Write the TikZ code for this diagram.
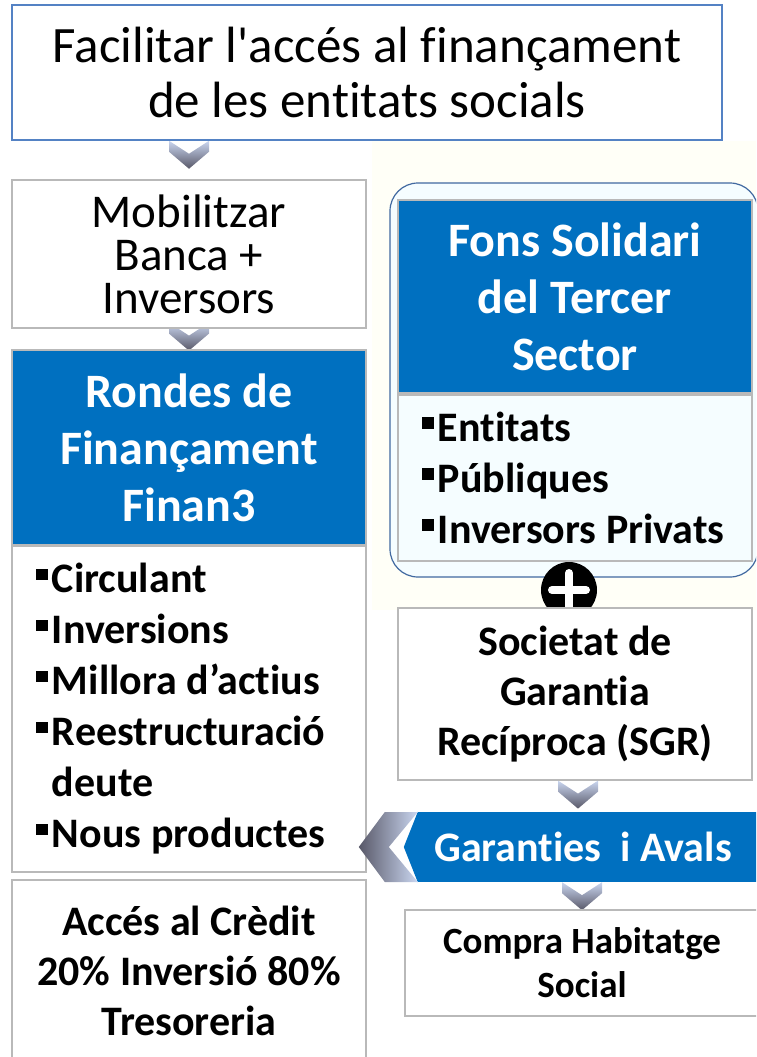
\documentclass[tikz,border=0pt]{standalone}
\usepackage{fontspec}
\setmainfont{Carlito}[Ligatures={TeXOff,NoCommon}]
\usepackage{tikz}
\usetikzlibrary{positioning, calc, backgrounds}
\definecolor{boxblue}{RGB}{0,112,192}
\definecolor{titleborder}{RGB}{84,130,196}
\definecolor{boxgray}{RGB}{185,185,185}
\definecolor{fundborder}{RGB}{65,105,160}
\definecolor{fundfill}{RGB}{245,253,255}
\definecolor{creambg}{RGB}{255,255,247}
\definecolor{chevlight}{RGB}{202,214,240}
\definecolor{chevdark}{RGB}{88,88,104}

\newcommand{\sqbullet}{\rule[0.3em]{0.28em}{0.28em}\kern0.1em}
\newcommand{\chevdown}[1]{\shade[top color=chevlight, bottom color=chevdark] ($(#1)+(-20,0)$) -- ++(20,13) -- ++(20,-13) -- ++(0,11) -- ++(-20,17) -- ++(-20,-17) -- cycle;}
\newcommand{\chevleft}[1]{\shade[left color=chevdark, right color=chevlight] ($(#1)+(0,-35)$) -- ++(-29,35) -- ++(29,35) -- ++(-33,0) -- ++(-26,-35) -- ++(26,-35) -- cycle;}

\begin{document}
\begin{tikzpicture}[
    x=1pt, y=-1pt,
    box/.style={draw=boxgray, fill=white, line width=1.2pt, minimum width=354pt, align=center, inner sep=0pt},
    bluebox/.style={box, fill=boxblue, text=white, font={\fontsize{48}{57}\selectfont\bfseries}},
    listbox/.style={box, align=flush left, text width=306pt, font={\fontsize{42}{51}\selectfont\bfseries}},
    boldbox/.style={box, font={\fontsize{42}{50}\selectfont\bfseries}}
]
    \useasboundingbox (0,0) rectangle (756,1057);
    \clip (0,0) rectangle (756,1057);
    \fill[creambg] (372,141) rectangle (756,610);

    % Goal
    \node[draw=titleborder, line width=1.5pt, fill=white, minimum width=710pt, minimum height=135pt, align=center, font={\fontsize{51}{55}\selectfont}] (title) at (367,72.5) {Facilitar l'accés al finançament\\de les entitats socials};

    % Left column
    \node[box, minimum height=148pt, font={\fontsize{47}{43}\selectfont}] (mobil) at (189,254) {Mobilitzar\\Banca +\\Inversors};
    \node[bluebox, draw=boxgray, minimum height=195pt] (rondes) at (189,447.5) {Rondes de\\Finançament\\Finan3};
    \node[listbox, minimum height=326pt] (rlist) at (189,709) {\sqbullet Circulant\\\sqbullet Inversions\\\sqbullet Millora d’actius\\\sqbullet Reestructuració\\\phantom{\sqbullet}deute\\\sqbullet Nous productes};
    \node[boldbox, minimum height=182pt] (credit) at (189,971) {Accés al Crèdit\\20\% Inversió 80\%\\Tresoreria};

    % Right column
    \node[draw=fundborder, line width=1.2pt, fill=fundfill, rounded corners=28pt, minimum width=368pt, minimum height=394pt] (fundbg) at (574,380) {};
    \node[bluebox, draw=boxgray, minimum height=193pt] (fons) at (575,296.5) {Fons Solidari\\del Tercer\\Sector};
    \node[listbox, fill=fundfill, minimum height=166pt] (flist) at (575,478) {\sqbullet Entitats\\\sqbullet Públiques\\\sqbullet Inversors Privats};
    \node[circle, fill=black, minimum size=56pt, inner sep=0pt] (plus) at (569,590) {};
    \draw[white, line width=8pt, line cap=round] ($(plus)+(-17,0)$) -- ($(plus)+(17,0)$);
    \draw[white, line width=8pt, line cap=round] ($(plus)+(0,-17)$) -- ($(plus)+(0,17)$);
    \node[boldbox, minimum height=172pt] (sgr) at (575,694) {Societat de\\Garantia\\Recíproca (SGR)};
    \node[fill=boxblue, minimum width=340pt, minimum height=70pt, inner sep=0pt, text=white, font={\fontsize{42}{43}\selectfont\bfseries}] (garant) at (588,847) {\hspace*{-10pt}Garanties\ \ i Avals};
    \fill[boxblue] (garant.north west) -- ($(garant.west)+(-14,0)$) -- (garant.south west) -- cycle;
    \node[box, minimum height=106pt, font={\fontsize{37}{44}\selectfont\bfseries}] (compra) at (582,963) {Compra Habitatge\\Social};

    % Chevrons
    \coordinate (c1) at (title.south -| mobil);
    \coordinate (c2) at ($(title.south -| fons)+(3,0)$);
    \coordinate (c3) at ($(mobil.south)+(0,-6)$);
    \coordinate (c4) at ($(sgr.south)+(3,0)$);
    \coordinate (c5) at (garant.south -| compra);
    \coordinate (c6) at (garant.west);
    \begin{scope}[on background layer]
        \chevdown{c1}
        \chevdown{c2}
        \chevdown{c3}
        \chevdown{c4}
        \chevdown{c5}
    \end{scope}
    \chevleft{c6}
\end{tikzpicture}
\end{document}
